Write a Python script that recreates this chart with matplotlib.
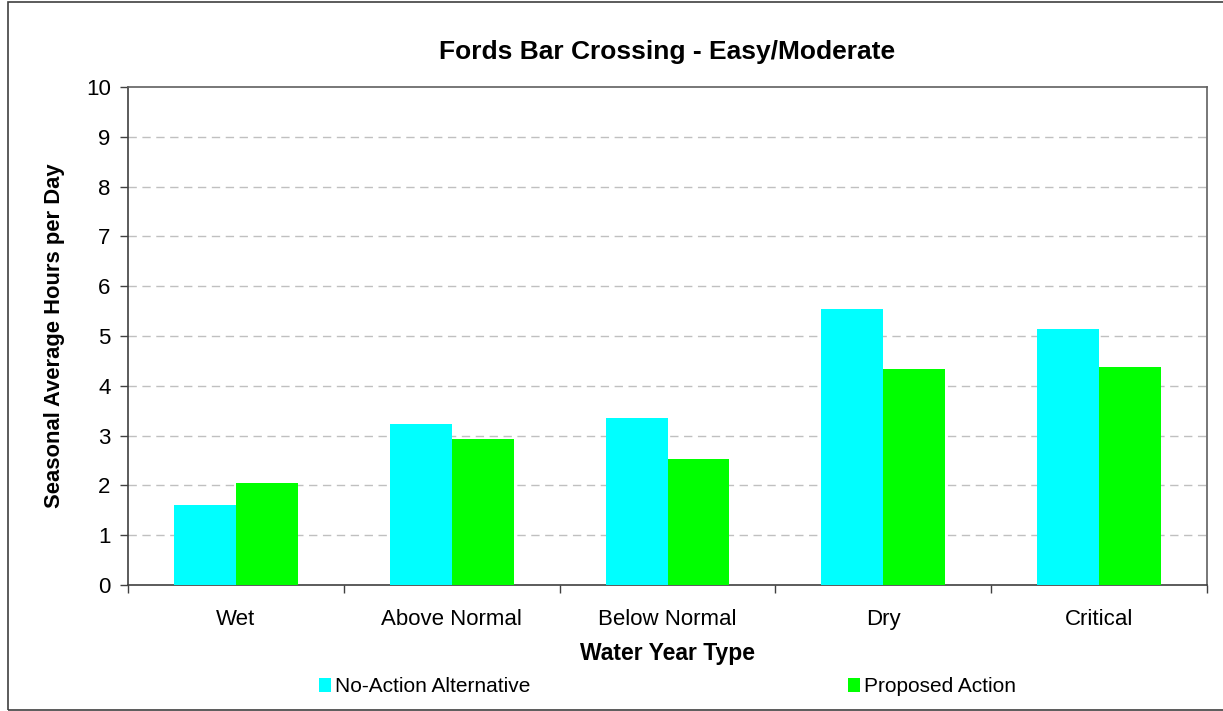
import matplotlib
matplotlib.use('Agg')
import matplotlib.pyplot as plt
import numpy as np
from matplotlib.patches import Rectangle

# данные
categories = ['Wet', 'Above Normal', 'Below Normal', 'Dry', 'Critical']
no_action = [1.61, 3.23, 3.35, 5.54, 5.14]
proposed = [2.05, 2.93, 2.53, 4.34, 4.38]
series_names = ['No-Action Alternative', 'Proposed Action']

plt.rcParams['font.family'] = ['Liberation Sans', 'DejaVu Sans']

fig = plt.figure(figsize=(12.23, 7.11), dpi=100)
ax = fig.add_axes([128 / 1223, 1 - 585 / 711, 1079 / 1223, 498 / 711])

x = np.arange(len(categories))
w = 0.287
ax.bar(x - w / 2, no_action, width=w, color='#00FFFF', label=series_names[0], zorder=3)
ax.bar(x + w / 2, proposed, width=w, color='#00FF00', label=series_names[1], zorder=3)

ax.set_xlim(-0.5, len(categories) - 0.5)
ax.set_ylim(0, 10)
ax.set_yticks(range(0, 11))
ax.tick_params(axis='y', labelsize=16, length=5.5, width=1, color='#404040', pad=7)

# подписи категорий по центрам, засечки на границах
ax.set_xticks(x)
ax.set_xticklabels(categories, fontsize=16)
ax.tick_params(axis='x', length=0, pad=17)
ax.set_xticks(np.arange(-0.5, len(categories)), minor=True)
ax.tick_params(axis='x', which='minor', length=6, width=1, color='#404040')

for y in range(1, 10):
    ax.axhline(y, color='#c0c0c0', linestyle=(0, (6, 4)), linewidth=1, zorder=1)

for name, s in ax.spines.items():
    s.set_linewidth(1.2)
    s.set_color('#404040' if name in ('left', 'bottom') else '#606060')

ax.set_title('Fords Bar Crossing - Easy/Moderate', fontsize=19, fontweight='bold', pad=20)
ax.set_xlabel('Water Year Type', fontsize=16.5, fontweight='bold', labelpad=9)
ax.set_ylabel('Seasonal Average Hours per Day', fontsize=15.8, fontweight='bold', labelpad=15)

leg = ax.legend(loc='upper center', bbox_to_anchor=(0.5, -0.148), ncol=2, frameon=False,
                fontsize=15, handlelength=0.6, handleheight=0.6, handletextpad=0.2,
                columnspacing=15.2)

# внешняя рамка
fig.patches.append(Rectangle((8 / 1223, 1 / 711), 1.05, 708 / 711, transform=fig.transFigure,
                             fill=False, edgecolor='#404040', linewidth=1.2))

fig.savefig('out.png', dpi=100)
